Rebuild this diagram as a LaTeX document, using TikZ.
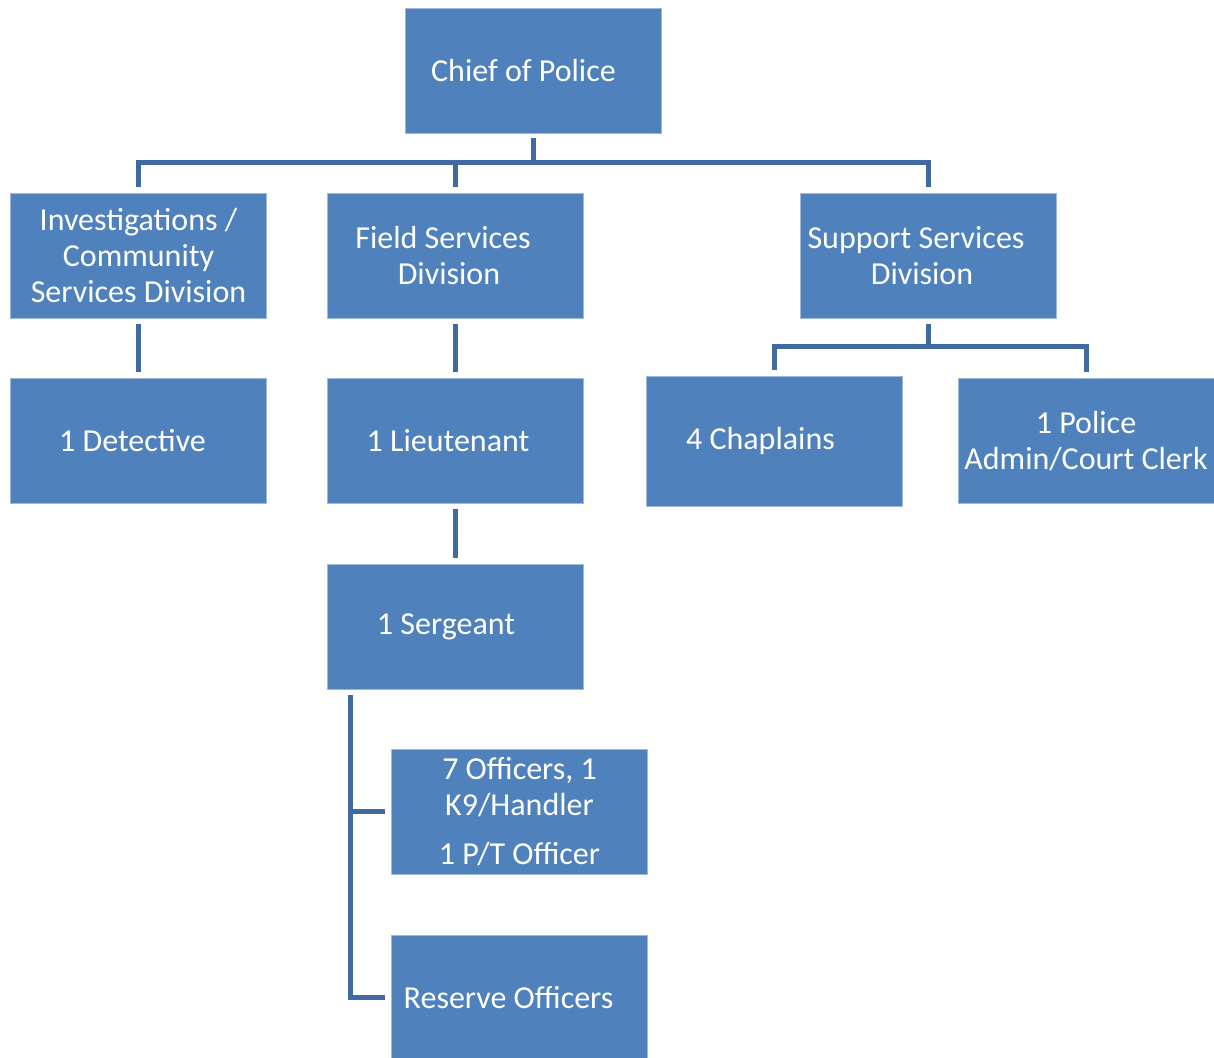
\documentclass[tikz,border=0pt]{standalone}
\usepackage{fontspec}
\setmainfont{Carlito}
\definecolor{boxblue}{RGB}{79,129,189}
\definecolor{linkblue}{RGB}{65,106,160}
\begin{document}
\begin{tikzpicture}[x=1pt, y=-1pt,
    box/.style={fill=boxblue, draw=boxblue!55!white, line width=0.8pt, minimum width=256pt, minimum height=125pt, inner sep=0pt, align=center, text=white, font=\fontsize{32}{36}\selectfont},
    link/.style={draw=linkblue, line width=5pt, shorten <=5pt, shorten >=6pt}]
    \useasboundingbox (0, 0) rectangle (1214, 1057);
    \node[box] (chief) at (533.5, 70.5) {Chief of Police\hspace*{20pt}};
    \node[box] (inv) at (138.5, 256) {Investigations /\\Community\\Services Division};
    \node[box] (field) at (455, 256) {Field Services\hspace*{24pt}\\Division\hspace*{12pt}};
    \node[box] (support) at (928, 256) {Support Services\hspace*{24pt}\\Division\hspace*{12pt}};
    \node[box] (detective) at (138.5, 441) {1 Detective\hspace*{12pt}};
    \node[box] (lieutenant) at (455, 441) {1 Lieutenant\hspace*{14pt}};
    \node[box, minimum height=130pt] (chaplains) at (774.5, 441) {4 Chaplains\hspace*{28pt}};
    \node[box] (clerk) at (1086, 441) {1 Police\\Admin/Court Clerk};
    \node[box] (sergeant) at (455, 627) {1 Sergeant\hspace*{18pt}};
    \node[box] (officers) at (519.5, 811.5) {7 Officers, 1\\K9/Handler\\[13pt]1 P/T Officer};
    \node[box] (reserve) at (519.5, 997.5) {Reserve Officers\hspace*{22pt}};
    \draw[link] (chief.south) -- ++(0, 29) -| (inv.north);
    \draw[link] (chief.south) -- ++(0, 29) -| (field.north);
    \draw[link] (chief.south) -- ++(0, 29) -| (support.north);
    \draw[link] (inv) -- (detective);
    \draw[link] (field) -- (lieutenant);
    \draw[link] (lieutenant) -- (sergeant);
    \draw[link] (support.south) -- ++(0, 28) -| (chaplains.north);
    \draw[link] (support.south) -- ++(0, 28) -| (clerk.north);
    \draw[link] ([xshift=-105pt]sergeant.south) |- (officers.west);
    \draw[link] ([xshift=-105pt]sergeant.south) |- (reserve.west);
\end{tikzpicture}
\end{document}
